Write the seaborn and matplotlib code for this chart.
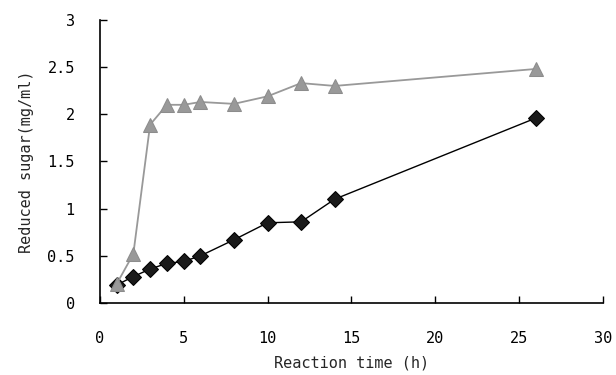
import matplotlib
matplotlib.use("Agg")
import matplotlib.pyplot as plt
import seaborn as sns
import pandas as pd

sns.set_style("white", {"xtick.direction": "in", "ytick.direction": "in",
                        "xtick.bottom": True, "ytick.left": True})
plt.rcParams['font.family'] = ['DejaVu Sans Mono', 'DejaVu Sans']

time_diamond = [1, 2, 3, 4, 5, 6, 8, 10, 12, 14, 26]
sugar_diamond = [0.19, 0.28, 0.36, 0.42, 0.44, 0.50, 0.67, 0.85, 0.86, 1.10, 1.96]
time_triangle = [1, 2, 3, 4, 5, 6, 8, 10, 12, 14, 26]
sugar_triangle = [0.20, 0.52, 1.89, 2.10, 2.10, 2.13, 2.11, 2.19, 2.33, 2.30, 2.48]
x_ticks = [0, 5, 10, 15, 20, 25, 30]
y_ticks = [0, 0.5, 1, 1.5, 2, 2.5, 3]

df_d = pd.DataFrame({"time": time_diamond, "sugar": sugar_diamond})
df_t = pd.DataFrame({"time": time_triangle, "sugar": sugar_triangle})

fig, ax = plt.subplots(figsize=(6.16, 3.75), dpi=100)
fig.subplots_adjust(left=0.162, right=0.979, bottom=0.192, top=0.947)

sns.lineplot(data=df_d, x="time", y="sugar", ax=ax, color="black", linewidth=1,
             marker="D", markersize=8.5, markeredgecolor="black", markerfacecolor="#1a1a1a")
sns.lineplot(data=df_t, x="time", y="sugar", ax=ax, color="#999999", linewidth=1.3,
             marker="^", markersize=10, markeredgecolor="#8c8c8c", markerfacecolor="#999999")

ax.set_xlim(0, 30)
ax.set_ylim(0, 3)
ax.set_xticks(x_ticks)
ax.set_yticks(y_ticks)
ax.set_xticklabels([str(t) for t in x_ticks])
ax.set_yticklabels(["0", "0.5", "1", "1.5", "2", "2.5", "3"])
ax.tick_params(axis="both", which="major", direction="in", length=5, width=1, labelsize=11,
               color="black", labelcolor="black", bottom=True, left=True)
ax.tick_params(axis="x", pad=20)
ax.tick_params(axis="y", pad=18)
for side in ["top", "right"]:
    ax.spines[side].set_visible(False)
for side in ["left", "bottom"]:
    ax.spines[side].set_color("black")
    ax.spines[side].set_linewidth(1.2)

ax.set_xlabel("Reaction time (h)", fontsize=11, labelpad=7)
ax.set_ylabel("Reduced sugar(mg/ml)", fontsize=11, labelpad=10)

plt.savefig("out.png", dpi=100)
